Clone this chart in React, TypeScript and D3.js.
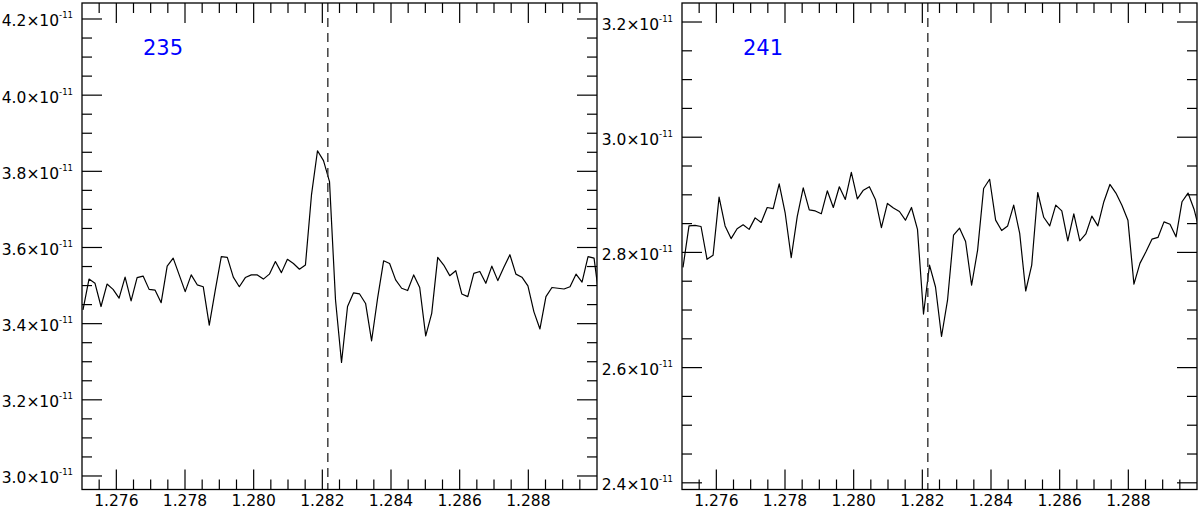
import React from "react";
import * as d3 from "d3";

// wavelength grid (micron)
const WAVELENGTH = [
  1.275029, 1.275204, 1.275379, 1.275554, 1.275729, 1.275905, 1.27608, 1.276255, 1.27643, 1.276605,
  1.27678, 1.276955, 1.27713, 1.277306, 1.277481, 1.277656, 1.277831, 1.278006, 1.278181, 1.278356,
  1.278531, 1.278707, 1.278882, 1.279057, 1.279232, 1.279407, 1.279582, 1.279757, 1.279932, 1.280107,
  1.280283, 1.280458, 1.280633, 1.280808, 1.280983, 1.281158, 1.281333, 1.281508, 1.281684, 1.281859,
  1.282034, 1.282209, 1.282384, 1.282559, 1.282734, 1.282909, 1.283085, 1.28326, 1.283435, 1.28361,
  1.283785, 1.28396, 1.284135, 1.28431, 1.284485, 1.284661, 1.284836, 1.285011, 1.285186, 1.285361,
  1.285536, 1.285711, 1.285886, 1.286062, 1.286237, 1.286412, 1.286587, 1.286762, 1.286937, 1.287112,
  1.287287, 1.287463, 1.287638, 1.287813, 1.287988, 1.288163, 1.288338, 1.288513, 1.288688, 1.288863,
  1.289039, 1.289214, 1.289389, 1.289564, 1.289739, 1.289914, 1.290089,
];

// flux in units of 1e-11
const FLUX_235 = [
  3.436, 3.517, 3.506, 3.445, 3.504, 3.49, 3.467, 3.522, 3.46, 3.521,
  3.525, 3.49, 3.488, 3.455, 3.551, 3.572, 3.528, 3.484, 3.528, 3.502,
  3.497, 3.396, 3.488, 3.576, 3.574, 3.522, 3.497, 3.521, 3.528, 3.528,
  3.517, 3.53, 3.563, 3.534, 3.569, 3.558, 3.543, 3.554, 3.738, 3.854,
  3.828, 3.773, 3.462, 3.298, 3.445, 3.481, 3.478, 3.453, 3.355, 3.467,
  3.565, 3.558, 3.515, 3.493, 3.487, 3.528, 3.495, 3.368, 3.427, 3.574,
  3.554, 3.526, 3.539, 3.478, 3.471, 3.532, 3.537, 3.506, 3.551, 3.513,
  3.548, 3.581, 3.53, 3.522, 3.499, 3.431, 3.386, 3.471, 3.495, 3.493,
  3.491, 3.497, 3.53, 3.509, 3.576, 3.572, 3.45,
];

const FLUX_241 = [
  2.774, 2.846, 2.847, 2.845, 2.788, 2.795, 2.896, 2.846, 2.824, 2.841,
  2.848, 2.84, 2.86, 2.852, 2.878, 2.876, 2.919, 2.868, 2.791, 2.862,
  2.912, 2.874, 2.872, 2.867, 2.907, 2.878, 2.914, 2.892, 2.939, 2.893,
  2.908, 2.914, 2.892, 2.843, 2.885, 2.877, 2.871, 2.856, 2.878, 2.84,
  2.693, 2.778, 2.74, 2.654, 2.717, 2.83, 2.842, 2.819, 2.743, 2.804,
  2.911, 2.927, 2.856, 2.838, 2.846, 2.882, 2.833, 2.733, 2.778, 2.904,
  2.861, 2.846, 2.882, 2.872, 2.82, 2.867, 2.82, 2.832, 2.863, 2.846,
  2.888, 2.918, 2.903, 2.882, 2.856, 2.745, 2.781, 2.801, 2.823, 2.826,
  2.853, 2.849, 2.827, 2.888, 2.903, 2.875, 2.834,
];

const LINE_CENTER = 1.28216;
const X_DOMAIN = [1.275, 1.29];
const X_TICKS = [1.276, 1.278, 1.28, 1.282, 1.284, 1.286, 1.288];
const X_TICK_LABELS = ["1.276", "1.278", "1.280", "1.282", "1.284", "1.286", "1.288"];
const Y_TICKS_235 = [3.0, 3.2, 3.4, 3.6, 3.8, 4.0, 4.2];
const Y_TICKS_241 = [2.4, 2.6, 2.8, 3.0, 3.2];
const Y_DOMAIN_235 = [2.9645, 4.242];
const Y_DOMAIN_241 = [2.3884, 3.233];
const LABEL_235 = "235";
const LABEL_241 = "241";

const W = 1200;
const H = 509;
const TOP = 3;
const BOTTOM = 489.5;
const FONT = "'DejaVu Sans', sans-serif";

type PanelProps = {
  id: string;
  left: number;
  right: number;
  flux: number[];
  yDomain: number[];
  yTicks: number[];
  label: string;
};

function Panel({ id, left, right, flux, yDomain, yTicks, label }: PanelProps) {
  const x = d3.scaleLinear().domain(X_DOMAIN).range([left, right]);
  const y = d3.scaleLinear().domain(yDomain).range([BOTTOM, TOP]);
  const line = d3
    .line<number>()
    .x((_, i) => x(WAVELENGTH[i]))
    .y((d) => y(d));

  const xMinor = d3
    .range(Math.round(X_DOMAIN[0] / 0.0005), Math.round(X_DOMAIN[1] / 0.0005) + 1)
    .map((k) => k * 0.0005)
    .filter((v) => v > X_DOMAIN[0] + 1e-9 && v < X_DOMAIN[1] - 1e-9);
  const yMinor = d3
    .range(Math.ceil(yDomain[0] / 0.05), Math.floor(yDomain[1] / 0.05) + 1)
    .map((k) => k * 0.05);

  const isMajorX = (v: number) => X_TICKS.some((t) => Math.abs(t - v) < 1e-7);
  const isMajorY = (v: number) => yTicks.some((t) => Math.abs(t - v) < 1e-7);

  const MAJ = 20;
  const MIN = 10;
  const tickStroke = { stroke: "#000", strokeWidth: 1.2 };

  return (
    <g>
      <defs>
        <clipPath id={id}>
          <rect x={left} y={TOP} width={right - left} height={BOTTOM - TOP} />
        </clipPath>
      </defs>
      {xMinor.map((v, i) => {
        const len = isMajorX(v) ? MAJ : MIN;
        const px = x(v);
        return (
          <g key={"xt" + i}>
            <line x1={px} x2={px} y1={BOTTOM} y2={BOTTOM - len} {...tickStroke} />
            <line x1={px} x2={px} y1={TOP} y2={TOP + len} {...tickStroke} />
          </g>
        );
      })}
      {yMinor.map((v, i) => {
        const len = isMajorY(v) ? MAJ : MIN;
        const py = y(v);
        return (
          <g key={"yt" + i}>
            <line x1={left} x2={left + len} y1={py} y2={py} {...tickStroke} />
            <line x1={right} x2={right - len} y1={py} y2={py} {...tickStroke} />
          </g>
        );
      })}
      {X_TICKS.map((v, i) => (
        <text
          key={"xl" + i}
          x={x(v)}
          y={506}
          textAnchor="middle"
          fontFamily={FONT}
          fontSize={15.5}
          fill="#000"
        >
          {X_TICK_LABELS[i]}
        </text>
      ))}
      {yTicks.map((v, i) => (
        <text
          key={"yl" + i}
          x={left - 9}
          y={y(v) + 7.5}
          textAnchor="end"
          fontFamily={FONT}
          fontSize={15.5}
          fill="#000"
        >
          {v.toFixed(1) + "\u00d710"}
          <tspan fontSize={8.5} dy={-8}>
            -11
          </tspan>
        </text>
      ))}
      <g clipPath={`url(#${id})`}>
        <path d={line(flux) || ""} fill="none" stroke="#000" strokeWidth={1.2} strokeLinejoin="round" />
      </g>
      <line
        x1={x(LINE_CENTER)}
        x2={x(LINE_CENTER)}
        y1={TOP}
        y2={BOTTOM}
        stroke="#333"
        strokeWidth={1.4}
        strokeDasharray="9,6"
      />
      <rect x={left} y={TOP} width={right - left} height={BOTTOM - TOP} fill="none" stroke="#000" strokeWidth={1.3} />
      <text x={left + 61} y={55} fontFamily={FONT} fontSize={21} fill="#0000ff">
        {label}
      </text>
    </g>
  );
}

export default function App() {
  return (
    <svg
      width={W}
      height={H}
      style={{ position: "absolute", left: 0, top: 0, background: "#fff" }}
    >
      <rect x={0} y={0} width={W} height={H} fill="#fff" />
      <Panel id="clipA" left={82} right={597} flux={FLUX_235} yDomain={Y_DOMAIN_235} yTicks={Y_TICKS_235} label={LABEL_235} />
      <Panel id="clipB" left={682} right={1197} flux={FLUX_241} yDomain={Y_DOMAIN_241} yTicks={Y_TICKS_241} label={LABEL_241} />
    </svg>
  );
}
